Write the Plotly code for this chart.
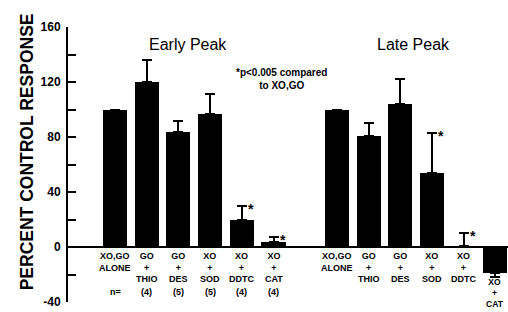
import plotly.graph_objects as go

# ---- data ----
early_labels = ["XO,GO<br>ALONE", "GO<br>+<br>THIO", "GO<br>+<br>DES",
                "XO<br>+<br>SOD", "XO<br>+<br>DDTC", "XO<br>+<br>CAT"]
late_labels = ["XO,GO<br>ALONE", "GO<br>+<br>THIO", "GO<br>+<br>DES",
               "XO<br>+<br>SOD", "XO<br>+<br>DDTC", "XO<br>+<br>CAT"]
early_values = [100, 120, 84, 97, 20, 4]
early_err = [0, 16, 8, 14, 10, 3]
late_values = [100, 81, 104, 54, 1, -19]
late_err = [0, 9, 18, 29, 9, 3]
n_labels = ["n=", "(4)", "(5)", "(5)", "(4)", "(4)"]
early_sig = [False, False, False, False, True, True]
late_sig = [False, False, False, True, True, False]
yticks = [-40, -20, 0, 20, 40, 60, 80, 100, 120, 140, 160]
ytick_text = ["-40", "", "0", "", "40", "", "80", "", "120", "", "160"]

early_x = list(range(6))
late_x = [7 + i for i in range(6)]

FONT = "Liberation Sans"
fig = go.Figure()

def add_group(xs, vals, errs):
    plus = [e if v >= 0 else 0 for v, e in zip(vals, errs)]
    minus = [0 if v >= 0 else e for v, e in zip(vals, errs)]
    fig.add_trace(go.Bar(
        x=xs, y=vals, width=0.76,
        marker=dict(color="black", line=dict(width=0)),
        error_y=dict(type="data", symmetric=False, array=plus, arrayminus=minus,
                     color="black", thickness=2, width=5),
        showlegend=False, hoverinfo="skip"))

add_group(early_x, early_values, early_err)
add_group(late_x, late_values, late_err)

ann = []
lab_font = dict(family=FONT, size=9, color="black")
for xs, labs, vals in ((early_x, early_labels, early_values), (late_x, late_labels, late_values)):
    for x, t, v in zip(xs, labs, vals):
        neg = v < 0
        ann.append(dict(x=x, y=(v - 1.5) if neg else -1.5, xref="x", yref="y",
                        text="<b>%s</b>" % t, showarrow=False, yanchor="top",
                        font=dict(family=FONT, size=8.5 if neg else 9, color="black"),
                        align="center"))
for x, t in zip(early_x, n_labels):
    ann.append(dict(x=x, y=-32.5, xref="x", yref="y", text="<b>%s</b>" % t,
                    showarrow=False, yanchor="middle", font=lab_font))

for xs, vals, errs, sig in ((early_x, early_values, early_err, early_sig),
                            (late_x, late_values, late_err, late_sig)):
    for x, v, e, s in zip(xs, vals, errs, sig):
        if s:
            ann.append(dict(x=x, y=v + e, xref="x", yref="y", text="<b>*</b>",
                            showarrow=False, xshift=9, yshift=-3,
                            font=dict(family=FONT, size=14, color="black")))

ann.append(dict(x=2.3, y=147, xref="x", yref="y", text="Early Peak", showarrow=False,
                font=dict(family=FONT, size=16, color="black")))
ann.append(dict(x=9.43, y=147, xref="x", yref="y", text="Late Peak", showarrow=False,
                font=dict(family=FONT, size=16, color="black")))
ann.append(dict(x=5.25, y=122, xref="x", yref="y",
                text="<b>*p&lt;0.005 compared<br>to XO,GO</b>", showarrow=False,
                font=dict(family=FONT, size=10, color="black"), align="center"))
ann.append(dict(x=-0.12, y=0.545, xref="paper", yref="paper",
                text="<b>PERCENT CONTROL RESPONSE</b>", textangle=-90, showarrow=False,
                font=dict(family=FONT, size=17.5, color="black")))

fig.update_layout(
    width=508, height=312,
    margin=dict(l=68, r=0, t=27, b=10),
    plot_bgcolor="white", paper_bgcolor="white",
    bargap=0, annotations=ann,
    xaxis=dict(range=[-1.483, 12.397], showticklabels=False, showgrid=False,
               zeroline=False, showline=False, ticks=""),
    yaxis=dict(range=[-40, 160], tickvals=yticks, ticktext=ytick_text,
               ticks="inside", ticklen=8, tickwidth=2, tickcolor="black",
               showline=True, linecolor="black", linewidth=2,
               showgrid=False, zeroline=True, zerolinecolor="black", zerolinewidth=2,
               ticklabelstandoff=3,
               tickfont=dict(family=FONT, size=12, color="black", weight="bold")),
)

fig.write_html("out.html", config={"displayModeBar": False, "staticPlot": True})

# remove the default page margin so the figure sits at the window's top-left corner
with open("out.html", encoding="utf-8") as f:
    html = f.read()
html = html.replace("<head>", "<head><style>html,body{margin:0;padding:0;overflow:hidden;}</style>", 1)
with open("out.html", "w", encoding="utf-8") as f:
    f.write(html)
